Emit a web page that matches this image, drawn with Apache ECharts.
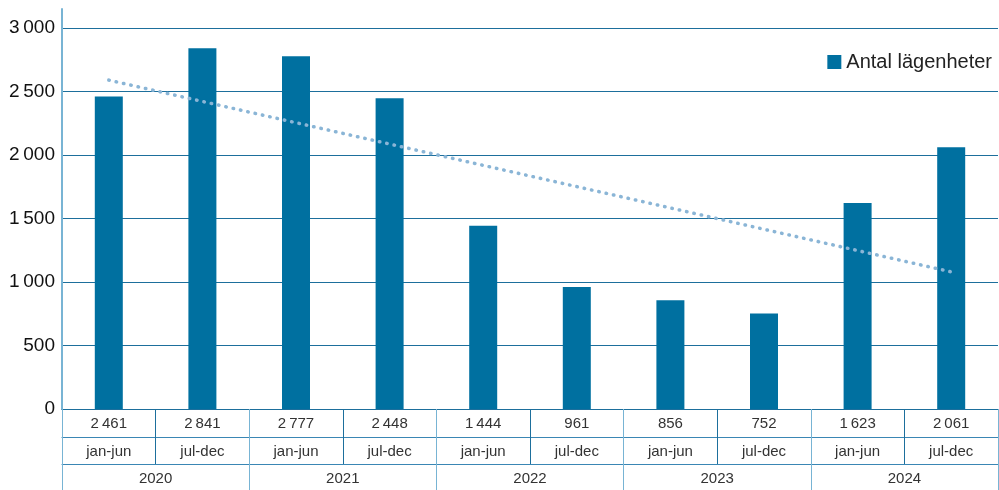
<!DOCTYPE html>
<html>
<head>
<meta charset="utf-8">
<script src="https://cdn.jsdelivr.net/npm/echarts@6/dist/echarts.min.js"></script>
<style>
  html, body { margin: 0; padding: 0; background: #fff; }
  #chart { width: 999px; height: 490px; }
</style>
</head>
<body>
<div id="chart"></div>
<script>
// data
var halves = ['jan-jun', 'jul-dec', 'jan-jun', 'jul-dec', 'jan-jun', 'jul-dec', 'jan-jun', 'jul-dec', 'jan-jun', 'jul-dec'];
var years = ['2020', '2021', '2022', '2023', '2024'];
var apartments = [2461, 2841, 2777, 2448, 1444, 961, 856, 752, 1623, 2061];
// dotted trend line, only the two ends are drawn, joined across the gap
var trend = [2590, null, null, null, null, null, null, null, null, 1080];
var yTicks = [0, 500, 1000, 1500, 2000, 2500, 3000];

var seriesName = 'Antal lägenheter';
var FONT = 'Liberation Sans, Arial, sans-serif';
var BAR = '#0070a0';
var DARK = '#1d6f9c';
var LIGHT = '#78b4d4';

function fmt(v) {
  return String(v).replace(/\B(?=(\d{3})+(?!\d))/g, '\u2009');
}

var chart = echarts.init(document.getElementById('chart'));

var option = {
  animation: false,
  textStyle: { fontFamily: FONT },
  legend: {
    data: [seriesName],
    right: 2,
    top: 47,
    itemWidth: 14,
    itemHeight: 14,
    itemGap: 7,
    icon: 'rect',
    textStyle: { fontSize: 20, color: '#222', fontFamily: FONT }
  },
  grid: { left: 62, right: 1, top: 9, bottom: 81, containLabel: false },
  xAxis: [
    { // row 1: values
      type: 'category',
      data: halves,
      position: 'bottom',
      offset: 0,
      axisLine: { show: true, lineStyle: { color: DARK, width: 1 } },
      axisTick: {
        show: true, length: 28,
        interval: function (i) { return i % 2 === 1; },
        lineStyle: { color: DARK }
      },
      axisLabel: {
        interval: 0, margin: 7, fontSize: 15, color: '#333',
        formatter: function (v, i) { return fmt(apartments[i]); }
      }
    },
    { // row 2: half years
      type: 'category',
      data: halves,
      position: 'bottom',
      offset: 28,
      axisLine: { show: true, lineStyle: { color: '#3a86b4', width: 1 } },
      axisTick: {
        show: true, length: 27,
        interval: function (i) { return i % 2 === 1; },
        lineStyle: { color: DARK }
      },
      axisLabel: { interval: 0, margin: 7, fontSize: 15, color: '#333' }
    },
    { // row 3: years
      type: 'category',
      data: years,
      position: 'bottom',
      offset: 55,
      axisLine: { show: true, lineStyle: { color: '#3a86b4', width: 1 } },
      axisTick: { show: true, length: 27, interval: 0, lineStyle: { color: LIGHT } },
      axisLabel: { interval: 0, margin: 7, fontSize: 15, color: '#333' }
    },
    { // year borders through rows 1 and 2
      type: 'category',
      data: years,
      position: 'bottom',
      offset: 0,
      axisLine: { show: false },
      axisTick: { show: true, length: 55, interval: 0, lineStyle: { color: LIGHT } },
      axisLabel: { show: false }
    }
  ],
  yAxis: {
    type: 'value',
    min: 0,
    max: 3150,
    interval: 500,
    axisLine: { show: true, lineStyle: { color: LIGHT, width: 2 } },
    axisTick: { show: false },
    axisLabel: {
      fontSize: 19, color: '#111', margin: 7,
      formatter: function (v) { return yTicks.indexOf(v) >= 0 ? fmt(v) : ''; }
    },
    splitLine: {
      show: true,
      lineStyle: { color: [DARK, DARK, DARK, DARK, DARK, DARK, DARK, 'rgba(0,0,0,0)'], width: 1 }
    }
  },
  series: [
    {
      name: seriesName,
      type: 'bar',
      xAxisIndex: 0,
      barWidth: 28,
      itemStyle: { color: BAR },
      data: apartments,
      z: 3
    },
    {
      name: 'trend',
      type: 'line',
      xAxisIndex: 0,
      data: trend,
      connectNulls: true,
      symbol: 'none',
      lineStyle: { color: '#8ab5d6', width: 3.5, type: [0.5, 7], cap: 'round' },
      z: 4
    }
  ]
};

chart.setOption(option);
</script>
</body>
</html>
